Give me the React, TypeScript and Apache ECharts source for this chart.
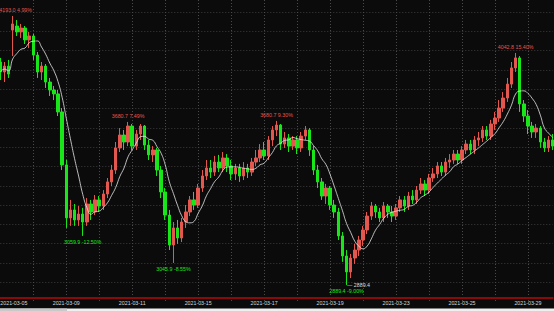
import { useEffect, useRef } from "react";
import * as echarts from "echarts";

const days = [
  "2021-03-05", "2021-03-08", "2021-03-09", "2021-03-10", "2021-03-11", "2021-03-12",
  "2021-03-15", "2021-03-16", "2021-03-17", "2021-03-18", "2021-03-19", "2021-03-22",
  "2021-03-23", "2021-03-24", "2021-03-25", "2021-03-26", "2021-03-29",
];
const times = ["10:00", "10:30", "11:00", "11:30", "13:30", "14:00", "14:30", "15:00"];

const opens = [
  3979, 3930, 3959, 4135, 4155, 4126, 4145, 4087, 4106, 4013, 3930, 3959, 3881, 3842, 3823, 3735,
  3476, 3217, 3256, 3207, 3236, 3197, 3285, 3246, 3305, 3275, 3334, 3393, 3451, 3559, 3622, 3588,
  3666, 3568, 3627, 3666, 3573, 3525, 3549, 3451, 3344, 3231, 3085, 3168, 3119, 3197, 3246, 3305,
  3280, 3363, 3422, 3461, 3441, 3490, 3461, 3510, 3471, 3432, 3461, 3422, 3461, 3441, 3490, 3510,
  3549, 3520, 3598, 3647, 3671, 3578, 3608, 3568, 3598, 3559, 3617, 3647, 3549, 3451, 3393, 3324,
  3363, 3280, 3246, 3129, 3031, 2953, 3021, 3060, 3109, 3158, 3226, 3275, 3246, 3217, 3275, 3246,
  3226, 3266, 3305, 3275, 3324, 3305, 3353, 3383, 3353, 3412, 3432, 3471, 3441, 3490, 3500, 3529,
  3500, 3549, 3578, 3549, 3598, 3608, 3647, 3617, 3676, 3705, 3754, 3803, 3871, 3950, 3999, 3774,
  3715, 3666, 3637, 3656, 3588, 3559, 3598,
];
const closes = [
  3930, 3959, 3920, 4165, 4126, 4145, 4087, 4106, 4013, 3930, 3959, 3881, 3842, 3823, 3735, 3476,
  3217, 3256, 3207, 3236, 3197, 3285, 3246, 3305, 3275, 3334, 3393, 3451, 3559, 3622, 3588, 3666,
  3568, 3627, 3666, 3573, 3525, 3549, 3451, 3344, 3231, 3085, 3168, 3119, 3197, 3246, 3305, 3280,
  3363, 3422, 3461, 3441, 3490, 3461, 3510, 3471, 3432, 3461, 3422, 3461, 3441, 3490, 3510, 3549,
  3520, 3598, 3647, 3671, 3578, 3608, 3568, 3598, 3559, 3617, 3647, 3549, 3451, 3393, 3324, 3363,
  3280, 3246, 3129, 3031, 2953, 3021, 3060, 3109, 3158, 3226, 3275, 3246, 3217, 3275, 3246, 3226,
  3266, 3305, 3275, 3324, 3305, 3353, 3383, 3353, 3412, 3432, 3471, 3441, 3490, 3500, 3529, 3500,
  3549, 3578, 3549, 3598, 3608, 3647, 3617, 3676, 3705, 3754, 3803, 3871, 3950, 3999, 3774, 3715,
  3666, 3637, 3656, 3588, 3559, 3598, 3568,
];
const lows = [
  3891, 3881, 3901, 4008, 4106, 4096, 4067, 4047, 3989, 3901, 3891, 3852, 3813, 3793, 3715, 3451,
  3168, 3178, 3178, 3178, 3129, 3178, 3207, 3231, 3246, 3256, 3314, 3373, 3432, 3539, 3549, 3568,
  3549, 3549, 3598, 3549, 3500, 3490, 3422, 3314, 3207, 3060, 2997, 3090, 3099, 3168, 3226, 3256,
  3266, 3344, 3402, 3412, 3422, 3441, 3441, 3441, 3402, 3402, 3393, 3402, 3412, 3422, 3471, 3490,
  3500, 3500, 3568, 3617, 3549, 3559, 3539, 3549, 3529, 3539, 3598, 3520, 3427, 3363, 3305, 3285,
  3256, 3217, 3109, 3002, 2889.4, 2923, 2992, 3031, 3080, 3138, 3207, 3217, 3197, 3197, 3217, 3197,
  3207, 3246, 3246, 3256, 3285, 3285, 3334, 3324, 3334, 3393, 3412, 3422, 3422, 3461, 3481, 3481,
  3481, 3529, 3529, 3529, 3568, 3588, 3598, 3598, 3647, 3686, 3735, 3784, 3852, 3930, 3735, 3686,
  3627, 3608, 3608, 3559, 3539, 3539, 3549,
];
const highs = [
  3999, 3979, 3989, 4204, 4184, 4165, 4155, 4126, 4116, 4028, 3979, 3969, 3901, 3862, 3842, 3754,
  3500, 3305, 3285, 3275, 3266, 3314, 3305, 3329, 3324, 3353, 3412, 3476, 3588, 3656, 3647, 3686,
  3676, 3647, 3676, 3671, 3598, 3568, 3559, 3471, 3363, 3256, 3197, 3207, 3217, 3280, 3324, 3344,
  3383, 3451, 3500, 3500, 3520, 3525, 3539, 3529, 3500, 3481, 3481, 3490, 3481, 3510, 3549, 3578,
  3588, 3617, 3666, 3691, 3676, 3637, 3627, 3617, 3617, 3637, 3666, 3656, 3568, 3476, 3412, 3383,
  3373, 3305, 3266, 3148, 3060, 3041, 3090, 3129, 3178, 3246, 3295, 3285, 3266, 3295, 3285, 3275,
  3285, 3324, 3324, 3344, 3353, 3373, 3412, 3402, 3432, 3461, 3490, 3490, 3510, 3529, 3549, 3549,
  3568, 3598, 3598, 3617, 3637, 3666, 3666, 3696, 3735, 3793, 3832, 3901, 3979, 4023, 4008, 3793,
  3744, 3686, 3676, 3666, 3608, 3617, 3627,
];

const annotations = [
  { index: 3, at: "high", text: "4193.0 4.99%" },
  { index: 31, at: "high", text: "3680.7 7.49%" },
  { index: 67, at: "high", text: "3680.7 9.30%" },
  { index: 125, at: "high", text: "4042.8 15.40%" },
  { index: 20, at: "low", text: "3059.9 -12.50%" },
  { index: 42, at: "low", text: "3045.9 -8.55%" },
  { index: 84, at: "low", text: "2889.4 -9.00%" },
];
const minMark = { index: 84, text: "2889.4" };
const MA_PERIOD = 7;

const UP = "#e4574f";
const DOWN = "#19e619";
const FONT = "Liberation Sans";

export default function App() {
  const ref = useRef<HTMLDivElement>(null);

  useEffect(() => {
    if (!ref.current) return;
    const chart = echarts.init(ref.current, undefined, { renderer: "svg" });

    const categories: string[] = [];
    for (const d of days) {
      for (const t of times) {
        if (categories.length < opens.length) categories.push(`${d} ${t}`);
      }
    }
    const rows = opens.map((o, i) => [o, closes[i], lows[i], highs[i]]);
    const ma = closes.map((_, i) => {
      const s = Math.max(0, i - MA_PERIOD + 1);
      const part = closes.slice(s, i + 1);
      return +(part.reduce((a, b) => a + b, 0) / part.length).toFixed(1);
    });
    const perDay = times.length;

    const markData: any[] = annotations.map((a, k) => {
      const isHigh = a.at === "high";
      return {
        coord: [a.index, isHigh ? highs[a.index] : lows[a.index]],
        label: {
          show: true,
          position: isHigh ? "top" : "bottom",
          distance: 3,
          offset: k === 0 ? [3, 0] : [0, 0],
          formatter: a.text,
          color: isHigh ? UP : DOWN,
          fontSize: 5.3,
          fontFamily: FONT,
        },
      };
    });
    markData.push({
      coord: [minMark.index, lows[minMark.index]],
      label: {
        show: true,
        position: "right",
        distance: 0,
        formatter: "\u2014 " + minMark.text,
        color: "#dddddd",
        fontSize: 5.3,
        fontFamily: FONT,
      },
    });

    chart.setOption({
      animation: false,
      backgroundColor: "#0b0b0b",
      grid: {
        left: 0.3,
        right: 1.3,
        top: 0,
        bottom: 9.4,
        containLabel: false,
        outerBoundsMode: "none",
      },
      xAxis: {
        type: "category",
        data: categories,
        boundaryGap: false,
        offset: -3.6,
        axisLine: { show: true, lineStyle: { color: "#8a0a0a", width: 2 } },
        axisTick: { show: false },
        axisLabel: {
          show: true,
          interval: (i: number) => i % perDay === 0 && (i / perDay) % 2 === 0,
          formatter: (v: string) => v.split(" ")[0],
          color: "#d8d8d8",
          fontSize: 5.3,
          fontFamily: FONT,
          margin: 2.5,
          align: "center",
          alignMinLabel: "left",
          alignMaxLabel: "center",
        },
        splitLine: {
          show: true,
          interval: (i: number) => i > 0 && i % perDay === 0,
          lineStyle: { color: "#4a4a4a", type: [1, 2], width: 1 },
        },
      },
      yAxis: [
        {
          type: "value",
          min: 2808,
          max: 4282,
          scale: true,
          axisLine: { show: false },
          axisTick: { show: false },
          axisLabel: { show: false },
          splitLine: { show: false },
        },
        {
          type: "value",
          min: 0,
          max: 301.6,
          interval: 19.3,
          position: "right",
          axisLine: { show: false },
          axisTick: { show: false },
          axisLabel: { show: false },
          splitLine: {
            show: true,
            showMinLine: false,
            showMaxLine: false,
            lineStyle: { color: "#3c3c3c", type: [1, 2], width: 1 },
          },
        },
      ],
      series: [
        {
          type: "candlestick",
          data: rows,
          yAxisIndex: 0,
          barWidth: 3,
          clip: false,
          itemStyle: {
            color: UP,
            color0: DOWN,
            borderColor: UP,
            borderColor0: DOWN,
            borderWidth: 1,
          },
          markPoint: {
            symbol: "circle",
            symbolSize: 1,
            itemStyle: { color: "rgba(0,0,0,0)" },
            data: markData,
          },
        },
        {
          type: "line",
          data: ma,
          yAxisIndex: 0,
          showSymbol: false,
          smooth: true,
          lineStyle: { color: "#e8e8e8", width: 0.8 },
          z: 3,
        },
      ],
      graphic: [
        { type: "rect", shape: { x: 0, y: 308.5, width: 554, height: 3 }, style: { fill: "#efefef" } },
        { type: "rect", shape: { x: 0, y: 308.5, width: 67, height: 3 }, style: { fill: "#c9c9c9" } },
      ],
    });

    return () => chart.dispose();
  }, []);

  return (
    <div
      ref={ref}
      style={{ position: "fixed", left: 0, top: 0, width: 554, height: 311 }}
    />
  );
}
